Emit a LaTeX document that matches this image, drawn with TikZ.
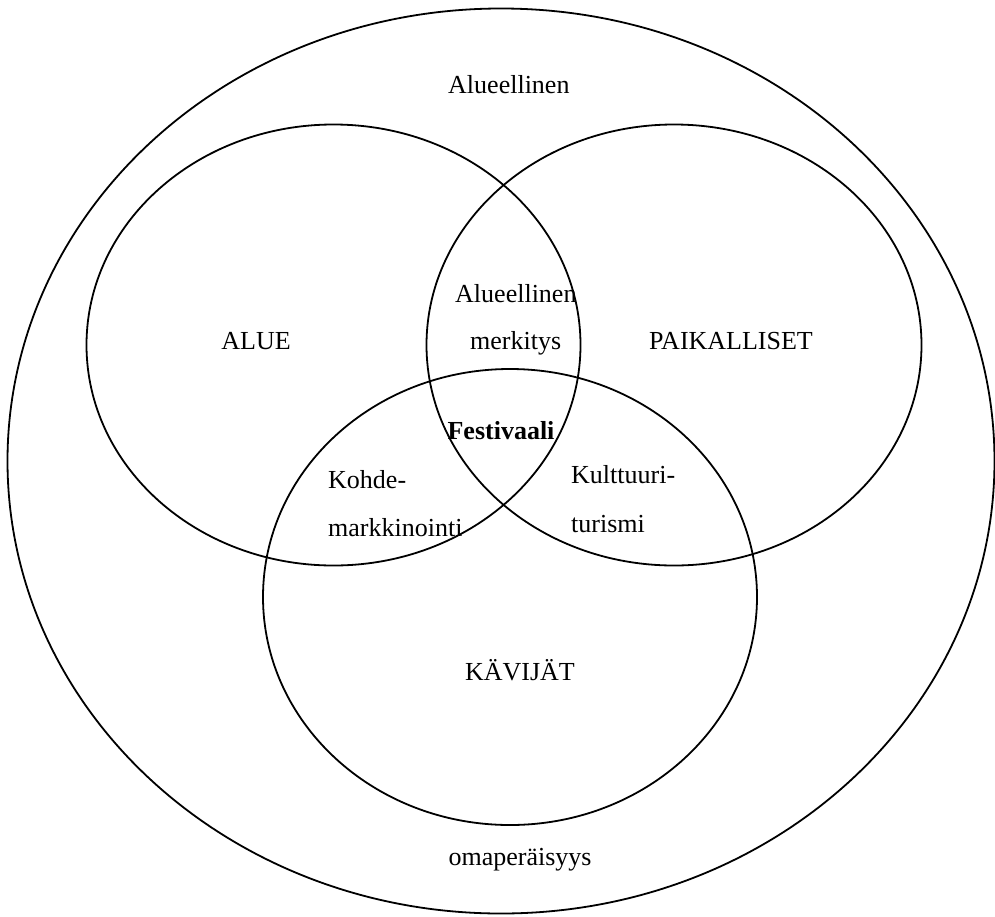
\documentclass[tikz,border=0pt]{standalone}
\usepackage{fontspec}
\setmainfont{Liberation Serif}
\begin{document}
\begin{tikzpicture}[x=1pt,y=-1pt,
  ring/.style={draw=black,line width=1.8pt},
  lbl/.style={inner sep=0pt,anchor=base west,font=\fontsize{26}{30}\selectfont},
  clbl/.style={inner sep=0pt,anchor=base,font=\fontsize{26}{30}\selectfont}]
\useasboundingbox (0,0) rectangle (995,916);
\fill[white] (0,0) rectangle (995,916);
% outer ellipse
\draw[ring] (501,461) ellipse [x radius=493.5, y radius=452.5];
% ALUE
\draw[ring] (333.5,345) ellipse [x radius=247, y radius=220.5];
% PAIKALLISET
\draw[ring] (674,345) ellipse [x radius=247.5, y radius=220.5];
% KAVIJAT
\draw[ring] (510,597) ellipse [x radius=247, y radius=228];
% texts
\node[lbl] (outerTop) at (448,93) {Alueellinen};
\node[clbl] (alue) at (256,349) {ALUE};
\node[clbl] (paik) at (731,349) {PAIKALLISET};
\node[lbl] (am1) at (455,302) {Alueellinen};
\node[lbl] (am2) at (470,349) {merkitys};
\node[clbl,font=\fontsize{26}{30}\selectfont\bfseries] (fest) at (501,439) {Festivaali};
\node[lbl] (km1) at (328,488) {Kohde-};
\node[lbl] (km2) at (328,536) {markkinointi};
\node[lbl] (kt1) at (571,483) {Kulttuuri-};
\node[lbl] (kt2) at (571,532) {turismi};
\node[clbl] (kav) at (520,680) {KÄVIJÄT};
\node[clbl] (oma) at (520,865) {omaperäisyys};
\end{tikzpicture}
\end{document}
